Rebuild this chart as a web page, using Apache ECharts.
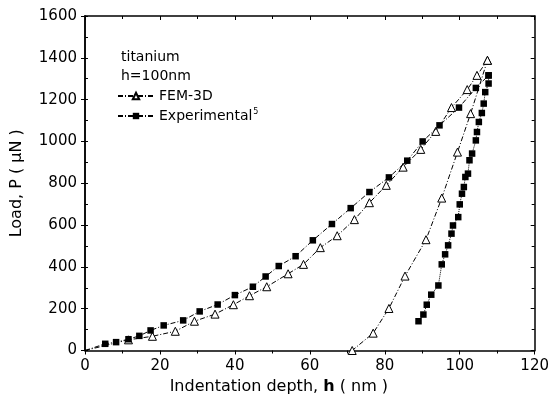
<!DOCTYPE html>
<html>
<head>
<meta charset="utf-8">
<script src="https://cdn.jsdelivr.net/npm/echarts@6/dist/echarts.min.js"></script>
<style>
  html, body { margin: 0; padding: 0; background: #fff; }
  #chart { width: 552px; height: 411px; }
</style>
</head>
<body>
<div id="chart"></div>
<script>
// Titanium nanoindentation, h = 100 nm: load vs. indentation depth

// FEM-3D simulation, loading branch
const femLoadH = [0, 11.6, 18.0, 24.1, 29.2, 34.7, 39.6, 43.9, 48.5, 54.2, 58.3, 62.8, 67.3, 71.9, 75.9, 80.4, 84.9, 89.6, 93.6, 97.8, 102.0, 104.6, 107.4];
const femLoadP = [0, 51, 68, 92, 140, 174, 219, 262, 305, 367, 412, 492, 549, 626, 707, 790, 877, 962, 1048, 1162, 1248, 1316, 1388];

// FEM-3D simulation, unloading branch
const femUnloadH = [107.4, 102.9, 99.4, 95.2, 91.0, 85.4, 81.1, 76.9, 71.3];
const femUnloadP = [1388, 1133, 949, 729, 530, 356, 201, 83, 0];

// Experimental, loading branch
const expLoadH = [0, 5.4, 8.3, 11.6, 14.5, 17.5, 21.0, 26.2, 30.6, 35.4, 40.0, 44.8, 48.2, 51.7, 56.2, 60.8, 65.9, 70.9, 75.9, 81.1, 86.0, 90.1, 94.6, 99.8, 104.3, 107.7];
const expLoadP = [0, 32, 40, 54, 70, 96, 120, 144, 187, 220, 265, 305, 354, 404, 451, 527, 605, 681, 758, 828, 908, 1000, 1077, 1162, 1256, 1316];

// Experimental, unloading branch
const expUnloadH = [107.7, 107.7, 106.8, 106.4, 105.9, 105.1, 104.6, 104.3, 103.3, 102.6, 102.2, 101.5, 101.1, 100.6, 100.0, 99.6, 98.2, 97.8, 96.9, 96.1, 95.2, 94.3, 92.4, 91.2, 90.3, 89.0];
const expUnloadP = [1316, 1277, 1236, 1181, 1136, 1093, 1045, 1005, 942, 910, 846, 830, 782, 750, 699, 638, 598, 559, 503, 460, 412, 311, 267, 219, 172, 140];

// Axis ranges and tick steps
const xTicks = { min: 0, max: 120, step: 20 };
const yTicks = { min: 0, max: 1600, step: 200 };

const pair = (hs, ps) => hs.map((h, i) => [h, ps[i]]);
// the loading curves start at the origin, drawn without a marker there
const fromOrigin = (pts) => pts.map((p, i) => (i === 0 && p[0] === 0 && p[1] === 0) ? { value: p, symbol: 'none' } : p);

const font = '"DejaVu Sans", Verdana, sans-serif';
const black = '#000';
const tickStyle = { color: black, width: 1 };

const baseX = {
  type: 'value', min: xTicks.min, max: xTicks.max, interval: xTicks.step,
  splitLine: { show: false },
  axisLine: { show: true, onZero: false, lineStyle: { color: black, width: 1.5 } }
};
const baseY = {
  type: 'value', min: yTicks.min, max: yTicks.max, interval: yTicks.step,
  splitLine: { show: false },
  axisLine: { show: true, onZero: false, lineStyle: { color: black, width: 1.5 } }
};

const chart = echarts.init(document.getElementById('chart'), null, { renderer: 'canvas' });

chart.setOption({
  backgroundColor: '#fff',
  animation: false,
  grid: { left: 85, right: 16, top: 16, bottom: 60.5, containLabel: false },
  xAxis: [
    Object.assign({}, baseX, {
      position: 'bottom',
      name: '{n|Indentation depth, }{b|h}{n| ( nm )}',
      nameLocation: 'middle', nameGap: 26,
      nameTextStyle: {
        padding: [0, 62, 0, 0],
        rich: {
          n: { fontFamily: font, fontSize: 16, color: black },
          b: { fontFamily: font, fontSize: 16, color: black, fontWeight: 'bold' }
        }
      },
      axisTick: { show: true, inside: false, length: 4, lineStyle: tickStyle },
      minorTick: { show: true, splitNumber: 2, length: 3, lineStyle: tickStyle },
      axisLabel: { show: true, margin: 8, fontFamily: font, fontSize: 15, color: black }
    }),
    Object.assign({}, baseX, {
      position: 'top',
      axisTick: { show: true, inside: true, length: 4, lineStyle: tickStyle },
      minorTick: { show: true, splitNumber: 2, length: 3, lineStyle: tickStyle },
      axisLabel: { show: false }
    })
  ],
  yAxis: [
    Object.assign({}, baseY, {
      position: 'left',
      name: 'Load, P ( \u03bcN )',
      nameLocation: 'middle', nameGap: 60,
      nameTextStyle: { fontFamily: font, fontSize: 16, color: black },
      axisTick: { show: true, inside: false, length: 4, lineStyle: tickStyle },
      minorTick: { show: false },
      axisLabel: {
        show: true, margin: 8, fontFamily: font, fontSize: 15, color: black,
        formatter: (v) => String(v)
      }
    }),
    Object.assign({}, baseY, {
      position: 'right',
      axisTick: { show: true, inside: true, length: 4, lineStyle: tickStyle },
      minorTick: { show: true, splitNumber: 2, length: 3, lineStyle: tickStyle },
      axisLabel: { show: false }
    }),
    Object.assign({}, baseY, {
      position: 'left',
      axisTick: { show: true, inside: true, length: 3, lineStyle: tickStyle },
      minorTick: { show: true, splitNumber: 2, length: 3, lineStyle: tickStyle },
      axisLabel: { show: false }
    })
  ],
  legend: {
    left: 117, top: 88, orient: 'vertical', padding: 0, itemGap: 4,
    itemWidth: 36, itemHeight: 8,
    data: ['FEM-3D', 'Experimental'],
    textStyle: {
      fontFamily: font, fontSize: 14, color: black, lineHeight: 16,
      rich: {
        t: { fontFamily: font, fontSize: 14, color: black, lineHeight: 16 },
        s: { fontFamily: font, fontSize: 8, color: black, verticalAlign: 'top', padding: [0, 0, 8, 1] }
      }
    },
    formatter: (name) => name === 'Experimental' ? '{t|Experimental}{s|5}' : '{t|' + name + '}'
  },
  graphic: [
    { type: 'text', left: 121, top: 50, style: { text: 'titanium', font: '14px ' + font, fill: black } },
    { type: 'text', left: 121, top: 69, style: { text: 'h=100nm', font: '14px ' + font, fill: black } }
  ],
  series: [
    {
      name: 'FEM-3D', type: 'line', xAxisIndex: 0, yAxisIndex: 0,
      data: fromOrigin(pair(femLoadH, femLoadP)),
      symbol: 'triangle', symbolSize: 8, showAllSymbol: true,
      itemStyle: { color: '#fff', borderColor: black, borderWidth: 1 },
      lineStyle: { color: black, width: 1, type: [5, 2, 1, 2] },
      z: 3
    },
    {
      name: 'FEM-3D', type: 'line', xAxisIndex: 0, yAxisIndex: 0,
      data: pair(femUnloadH, femUnloadP),
      symbol: 'triangle', symbolSize: 8, showAllSymbol: true,
      itemStyle: { color: '#fff', borderColor: black, borderWidth: 1 },
      lineStyle: { color: black, width: 1, type: [5, 2, 1, 2] },
      z: 3
    },
    {
      name: 'Experimental', type: 'line', xAxisIndex: 0, yAxisIndex: 0,
      data: fromOrigin(pair(expLoadH, expLoadP)),
      symbol: 'rect', symbolSize: 6.5, showAllSymbol: true,
      itemStyle: { color: black, borderColor: black, borderWidth: 0 },
      lineStyle: { color: black, width: 1, type: [5, 2, 1, 2] },
      z: 4
    },
    {
      name: 'Experimental', type: 'line', xAxisIndex: 0, yAxisIndex: 0,
      data: pair(expUnloadH, expUnloadP),
      symbol: 'rect', symbolSize: 6.5, showAllSymbol: true,
      itemStyle: { color: black, borderColor: black, borderWidth: 0 },
      lineStyle: { color: black, width: 1, type: 'dotted' },
      z: 4
    }
  ]
});
</script>
</body>
</html>
